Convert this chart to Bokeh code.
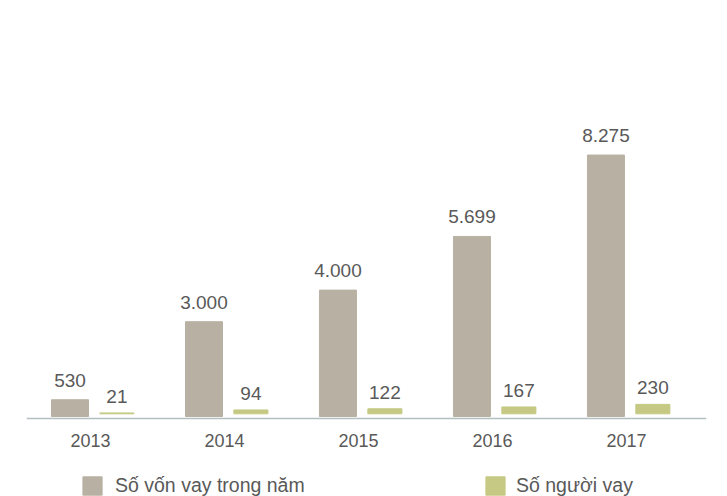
from bokeh.plotting import figure
from bokeh.models import Range1d, Legend, LegendItem, LabelSet, ColumnDataSource, Span
from bokeh.core.properties import value
from bokeh.embed import file_html
from bokeh.resources import INLINE

years = ["2013", "2014", "2015", "2016", "2017"]
capital = [530, 3000, 4000, 5699, 8275]
borrowers = [21, 94, 122, 167, 230]
series_names = ["Số vốn vay trong năm", "Số người vay"]

FONT = "Liberation Sans"
TXT = "#595959"
GRAY = "#b8b1a3"
GREEN = "#c5c983"
AXIS_Y = -63  # axis line sits just under the bars' baseline

idx = list(range(len(years)))


def fmt(v):
    return f"{v:,}".replace(",", ".")


src = ColumnDataSource(dict(
    x=idx,
    x_gray=[i - 0.175 for i in idx],
    x_green=[i + 0.175 for i in idx],
    capital=capital,
    borrowers=borrowers,
    cap_lbl=[fmt(v) for v in capital],
    bor_lbl=[fmt(v) for v in borrowers],
    year=years,
    axis_y=[AXIS_Y] * len(years),
))

p = figure(width=720, height=496, output_backend="svg", toolbar_location=None,
           x_range=Range1d(-0.4996, 4.5754), y_range=Range1d(-2532, 12597),
           x_axis_location=None, y_axis_location=None,
           min_border_left=26, min_border_right=14, min_border_top=18, min_border_bottom=0)
p.extra_y_ranges = {"people": Range1d(-2018, 9645)}

r1 = p.vbar(x="x_gray", top="capital", bottom=0, width=0.276, color=GRAY, source=src)
r2 = p.vbar(x="x_green", top="borrowers", bottom=0, width=0.254, color=GREEN,
            y_range_name="people", source=src)

p.add_layout(Span(location=AXIS_Y, dimension="width", line_color="#b4c0c0", line_width=1.5))

l1 = LabelSet(x="x_gray", y="capital", text="cap_lbl", y_offset=13, text_align="center",
              text_baseline="alphabetic", text_font_size="19px", text_color=TXT,
              text_font=value(FONT), source=src)
l2 = LabelSet(x="x_green", y="borrowers", text="bor_lbl", y_offset=10, text_align="center",
              text_baseline="alphabetic", text_font_size="19px", text_color=TXT,
              text_font=value(FONT), y_range_name="people", source=src)
l3 = LabelSet(x="x", y="axis_y", text="year", x_offset=-3, y_offset=-28.5, text_align="center",
              text_baseline="alphabetic", text_font_size="18px", text_color=TXT,
              text_font=value(FONT), source=src)
for l in (l1, l2, l3):
    p.add_layout(l)

p.grid.visible = False
p.outline_line_color = None

for name, r, loc, so in [(series_names[0], r1, (54, -3), 11),
                         (series_names[1], r2, (457, -3), 9)]:
    leg = Legend(items=[LegendItem(label=name, renderers=[r])], location=loc,
                 orientation="horizontal", border_line_color=None, background_fill_alpha=0,
                 padding=0, margin=0, glyph_width=24, glyph_height=23, label_height=27,
                 label_standoff=so, label_text_font_size="19.5px", label_text_color=TXT,
                 label_text_font=FONT)
    p.add_layout(leg)

open("out.html", "w").write(file_html(p, INLINE))
